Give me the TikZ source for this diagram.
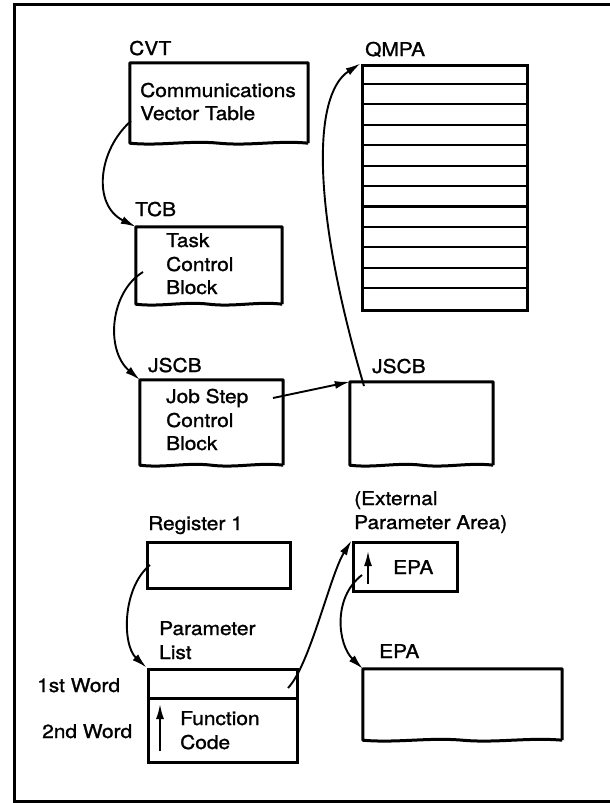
\documentclass[tikz,border=0pt]{standalone}
\usepackage{fontspec}
\setmainfont{TeX Gyre Heros}[FakeStretch=1.1,FakeBold=1.3]
\usetikzlibrary{arrows.meta,calc}
\newcommand\wavybox[1]{%
  \draw[boxline] (#1.south east) -- (#1.north east) -- (#1.north west) -- (#1.south west)
   .. controls ($(#1.south west)!0.17!(#1.south east)+(0,3)$) and ($(#1.south west)!0.33!(#1.south east)+(0,-3)$) .. ($(#1.south west)!0.5!(#1.south east)$)
   .. controls ($(#1.south west)!0.67!(#1.south east)+(0,3)$) and ($(#1.south west)!0.83!(#1.south east)+(0,-3)$) .. (#1.south east);}
\begin{document}
\begin{tikzpicture}[x=1pt,y=-1pt,
  boxline/.style={line width=3pt,line join=round},
  area/.style={draw=none,inner sep=0pt,minimum width=#1},
  sq/.style={draw,line width=3pt,inner sep=0pt},
  lbl/.style={anchor=base west,inner sep=0pt,font=\fontsize{19}{23}\selectfont},
  ptr/.style={line width=1.9pt,-{Latex[length=15pt,width=8pt]}},
  rowline/.style={line width=2.2pt}]
\useasboundingbox (0,0) rectangle (610,803);
% frame (open on the right)
\draw[line width=3pt] (610,4) -- (14,4) -- (14,801) -- (610,801);

% CVT
\node[lbl] (cvtl) at (129,55) {CVT};
\node[area=178,minimum height=80] (cvt) at (219,103) {};
\wavybox{cvt}
\node[lbl] (cvt1) at (140,97) {Communications};
\node[lbl] (cvt2) at (140,120) {Vector Table};

% TCB
\node[lbl] (tcbl) at (135,216) {TCB};
\node[area=146,minimum height=77] (tcb) at (209,265.5) {};
\wavybox{tcb}
\node[lbl] (tcb1) at (166,247) {Task};
\node[lbl] (tcb2) at (166,271) {Control};
\node[lbl] (tcb3) at (166,294) {Block};

% JSCB 1
\node[lbl] (jsl) at (148,372) {JSCB};
\node[area=143,minimum height=85] (js) at (211.5,422.5) {};
\wavybox{js}
\node[lbl] (js1) at (166,403) {Job Step};
\node[lbl] (js2) at (166,427) {Control};
\node[lbl] (js3) at (166,450) {Block};

% JSCB 2
\node[lbl] (jtl) at (372,373) {JSCB};
\node[area=143,minimum height=83] (jt) at (421.5,423.5) {};
\wavybox{jt}

% QMPA
\node[lbl] (qml) at (365,56) {QMPA};
\node[sq,minimum width=165,minimum height=245] (qm) at (444.5,187.5) {};
\foreach \i in {1,...,11}
  \draw[rowline] ($(qm.north west)+(0,\i*20.42)$) -- ($(qm.north east)+(0,\i*20.42)$);

% Register 1
\node[lbl] (regl) at (148,530) {Register 1};
\node[sq,minimum width=143,minimum height=46] (reg) at (218.5,565) {};

% Parameter list
\node[lbl] (pl1) at (159,635) {Parameter};
\node[lbl] (pl2) at (159,659) {List};
\node[sq,minimum width=149,minimum height=93] (par) at (222.5,715.5) {};
\draw[boxline] ($(par.north west)+(0,31)$) -- ($(par.north east)+(0,31)$);
\node[lbl] (w1) at (37,692) {1st Word};
\node[lbl] (w2) at (42,738) {2nd Word};
\node[lbl] (fc1) at (180,725) {Function};
\node[lbl] (fc2) at (180,749) {Code};
\coordinate (fca) at (160,751);
\coordinate (fcb) at (160,704);
\draw[ptr] (fca) -- (fcb);

% External parameter area
\node[lbl] (ex1) at (354,505) {(External};
\node[lbl] (ex2) at (354,529) {Parameter Area)};
\node[sq,minimum width=104,minimum height=49] (epa) at (405,566.5) {};
\node[lbl] (epat) at (393,574) {EPA};
\coordinate (epaa) at (368,584);
\coordinate (epab) at (368,551);
\draw[ptr] (epaa) -- (epab);

% EPA big
\node[lbl] (ebl) at (379,658) {EPA};
\node[area=199,minimum height=71] (eb) at (462.5,704.5) {};
\wavybox{eb}

% connectors
\coordinate (p1) at (131,121);
\draw[ptr] (p1) .. controls (98,150) and (92,205) .. (tcb.north west);
\coordinate (p2) at (143,272);
\draw[ptr] (p2) .. controls (110,292) and (105,350) .. (js.north west);
\coordinate (p3) at (273,398);
\draw[ptr] (p3) -- (jt.north west);
\coordinate (p4) at (364,386);
\draw[ptr] (p4) .. controls (312,210) and (312,95) .. (qm.north west);
\coordinate (p5) at (150,565);
\draw[ptr] (p5) .. controls (122,588) and (122,645) .. (par.north west);
\coordinate (p6) at (288,688);
\draw[ptr] (p6) .. controls (310,665) and (330,575) .. (epa.north west);
\coordinate (p7) at (362,575);
\draw[ptr] (p7) .. controls (332,598) and (338,645) .. (eb.north west);
\end{tikzpicture}
\end{document}
